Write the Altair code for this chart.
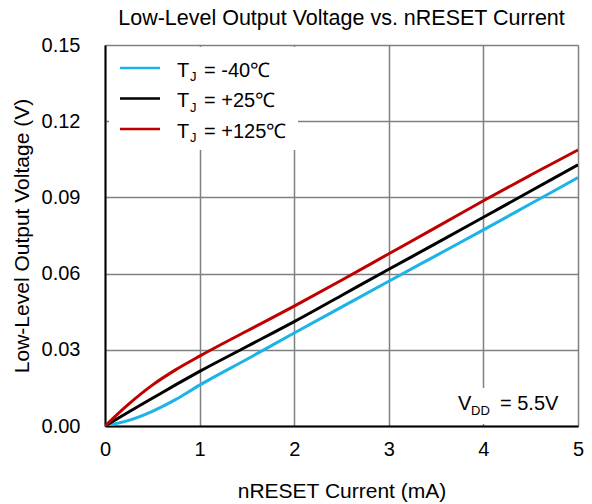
import altair as alt
import pandas as pd

# ---- data ----
current_ma = [0, 0.25, 0.5, 0.75, 1, 1.5, 2, 2.5, 3, 3.5, 4, 4.5, 5]
v_m40 = [0, 0.0022, 0.0058, 0.0105, 0.0161, 0.0263, 0.0366, 0.0468, 0.0570, 0.0671, 0.0772, 0.0875, 0.0978]
v_p25 = [0, 0.0055, 0.0109, 0.0163, 0.0215, 0.0313, 0.0411, 0.0514, 0.0617, 0.0719, 0.0822, 0.0925, 0.1028]
v_p125 = [0, 0.0086, 0.0161, 0.0222, 0.0275, 0.0374, 0.0472, 0.0574, 0.0678, 0.0782, 0.0887, 0.0988, 0.1087]
series_names = ["-40℃", "+25℃", "+125℃"]
series_colors = ["#1CB3E8", "#000000", "#C00000"]
x_ticks = [0, 1, 2, 3, 4, 5]
y_ticks = [0, 0.03, 0.06, 0.09, 0.12, 0.15]
title_text = "Low-Level Output Voltage vs. nRESET Current"

rows = []
for name, vals in zip(series_names, [v_m40, v_p25, v_p125]):
    for c, v in zip(current_ma, vals):
        rows.append({"current": c, "voltage": v, "series": name})
df = pd.DataFrame(rows)

FONT = "Liberation Sans"
W, H = 473, 381

x_enc = alt.X(
    "current:Q",
    scale=alt.Scale(domain=[0, 5], nice=False, zero=False),
    axis=alt.Axis(
        values=x_ticks, title="nRESET Current (mA)", format="d",
        labelFontSize=20, titleFontSize=21, labelFont=FONT, titleFont=FONT,
        labelColor="black", titleColor="black", titleFontWeight="normal",
        tickSize=0, labelPadding=13, labelFlush=False,
        gridColor="#808080", gridWidth=1.5, gridOpacity=1,
        domainColor="black", domainWidth=2,
        titleX=W / 2, titleY=71, titleBaseline="alphabetic", titleAnchor="middle",
    ),
)
y_enc = alt.Y(
    "voltage:Q",
    scale=alt.Scale(domain=[0, 0.15], nice=False, zero=False),
    axis=alt.Axis(
        values=y_ticks, title="Low-Level Output Voltage (V)", format=".2f",
        labelFontSize=20, titleFontSize=21, labelFont=FONT, titleFont=FONT,
        labelColor="black", titleColor="black", titleFontWeight="normal",
        tickSize=0, labelPadding=25, labelFlush=False,
        gridColor="#808080", gridWidth=1.5, gridOpacity=1,
        domainColor="black", domainWidth=2,
        titleX=-77, titleY=H / 2, titleBaseline="alphabetic", titleAngle=-90,
        titleAlign="center",
    ),
)

lines = alt.Chart(df).mark_line(strokeWidth=3, interpolate="monotone", clip=True).encode(
    x=x_enc,
    y=y_enc,
    color=alt.Color("series:N", scale=alt.Scale(domain=series_names, range=series_colors), legend=None),
    detail="series:N",
)

one = pd.DataFrame({"k": [0]})

def txt(s, x, y, size=20, align="left"):
    return alt.Chart(pd.DataFrame({"t": [s]})).mark_text(
        font=FONT, fontSize=size, align=align, baseline="alphabetic", color="black"
    ).encode(text="t:N", x=alt.value(x), y=alt.value(y))

layers = [lines]

# legend background
layers.append(
    alt.Chart(one).mark_rect(fill="white").encode(
        x=alt.value(4), x2=alt.value(193), y=alt.value(2), y2=alt.value(105)
    )
)
row_y = [23, 53.5, 84]
for name, col, yy in zip(series_names, series_colors, row_y):
    layers.append(
        alt.Chart(one).mark_rule(strokeWidth=2.5, color=col).encode(
            x=alt.value(15), x2=alt.value(55), y=alt.value(yy), y2=alt.value(yy)
        )
    )
    layers.append(txt("T", 72, yy + 8.5))
    layers.append(txt("J", 85, yy + 13, size=13))
    layers.append(txt("= " + name, 99, yy + 8.5))

# VDD annotation
layers.append(
    alt.Chart(one).mark_rect(fill="white").encode(
        x=alt.value(345), x2=alt.value(471), y=alt.value(343), y2=alt.value(379)
    )
)
layers.append(txt("V", 353, 365))
layers.append(txt("DD", 366, 370, size=13))
layers.append(txt("= 5.5V", 395, 365))

# chart title
layers.append(txt(title_text, W / 2, -20, size=21.5, align="center"))

chart = alt.layer(*layers).properties(
    width=W,
    height=H,
    autosize=alt.AutoSizeParams(type="none"),
    padding={"left": 105, "top": 45, "right": 14, "bottom": 78},
).configure_view(
    stroke="black", strokeWidth=2
).configure(background="white")

chart.save("out.html", embed_options={"renderer": "svg", "actions": False})
